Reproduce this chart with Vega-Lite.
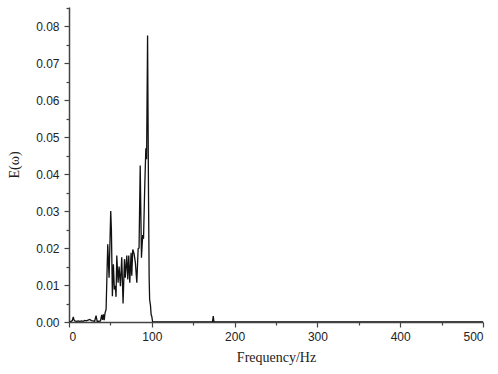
{
  "$schema": "https://vega.github.io/schema/vega-lite/v6.json",
  "width": 414,
  "height": 315,
  "autosize": {"type": "none"},
  "padding": {"left": 69, "top": 7, "right": 15, "bottom": 52},
  "background": "white",
  "config": {
    "view": {"stroke": null},
    "axis": {
      "grid": false,
      "domainColor": "#444444",
      "domainWidth": 1.5,
      "tickColor": "#444444",
      "tickWidth": 1.2,
      "labelColor": "#222222",
      "labelFont": "Liberation Sans",
      "labelFontSize": 12,
      "titleFont": "Liberation Serif",
      "titleFontSize": 14,
      "titleFontWeight": "normal",
      "titleColor": "#222222"
    }
  },
  "data": {
    "values": [
      {"f": 0, "e": 0.0},
      {"f": 2, "e": 0.0001},
      {"f": 4, "e": 0.0004},
      {"f": 5.2, "e": 0.0014},
      {"f": 6, "e": 0.0006},
      {"f": 7, "e": 0.0003},
      {"f": 9, "e": 0.0002},
      {"f": 11, "e": 0.0003},
      {"f": 13, "e": 0.0002},
      {"f": 15, "e": 0.0003},
      {"f": 17, "e": 0.0002},
      {"f": 19, "e": 0.0004},
      {"f": 21, "e": 0.0003},
      {"f": 23, "e": 0.0005},
      {"f": 25, "e": 0.0007},
      {"f": 27, "e": 0.0004},
      {"f": 29, "e": 0.0003},
      {"f": 31, "e": 0.0002},
      {"f": 32.7, "e": 0.0017},
      {"f": 34, "e": 0.0002},
      {"f": 36, "e": 0.0002},
      {"f": 38, "e": 0.0003},
      {"f": 39.5, "e": 0.0019},
      {"f": 40.5, "e": 0.0006},
      {"f": 41.5, "e": 0.0021},
      {"f": 42.5, "e": 0.0005},
      {"f": 43.5, "e": 0.0024},
      {"f": 44.8, "e": 0.0034},
      {"f": 46.8, "e": 0.021},
      {"f": 48.4, "e": 0.012},
      {"f": 50.4, "e": 0.030},
      {"f": 51.2, "e": 0.025},
      {"f": 52.4, "e": 0.007},
      {"f": 53.6, "e": 0.0156},
      {"f": 54.8, "e": 0.0088},
      {"f": 56.0, "e": 0.0098},
      {"f": 56.8, "e": 0.0068},
      {"f": 57.7, "e": 0.018},
      {"f": 59.3, "e": 0.0106},
      {"f": 60.5, "e": 0.015},
      {"f": 62.1, "e": 0.0097},
      {"f": 63.7, "e": 0.0175},
      {"f": 65.3, "e": 0.005},
      {"f": 67.0, "e": 0.017},
      {"f": 68.0, "e": 0.012},
      {"f": 69.8, "e": 0.018},
      {"f": 71.0, "e": 0.0115},
      {"f": 72.2, "e": 0.018},
      {"f": 73.4, "e": 0.0106},
      {"f": 75.0, "e": 0.0187},
      {"f": 75.8, "e": 0.0125},
      {"f": 77.0, "e": 0.0196},
      {"f": 78.6, "e": 0.0185},
      {"f": 80.2, "e": 0.016},
      {"f": 81.9, "e": 0.0106},
      {"f": 83.5, "e": 0.0198},
      {"f": 84.6, "e": 0.020},
      {"f": 86.0, "e": 0.0423},
      {"f": 87.5, "e": 0.0174},
      {"f": 89.0, "e": 0.0235},
      {"f": 90.0, "e": 0.0225},
      {"f": 91.3, "e": 0.035},
      {"f": 92.8, "e": 0.047},
      {"f": 93.7, "e": 0.044},
      {"f": 94.9, "e": 0.0775},
      {"f": 96.0, "e": 0.035},
      {"f": 96.8, "e": 0.012},
      {"f": 97.4, "e": 0.006},
      {"f": 98.4, "e": 0.0045},
      {"f": 99.2, "e": 0.002},
      {"f": 100.0, "e": 0.0015},
      {"f": 101.0, "e": 0.0},
      {"f": 173.3, "e": 0.0},
      {"f": 174.2, "e": 0.0016},
      {"f": 175.1, "e": 0.0},
      {"f": 500, "e": 0.0}
    ]
  },
  "layer": [
    {
      "mark": {"type": "line", "color": "#111111", "strokeWidth": 1.3, "clip": true},
      "encoding": {
        "x": {
          "field": "f", "type": "quantitative",
          "scale": {"domain": [0, 500], "nice": false, "zero": false},
          "axis": {
            "orient": "bottom",
            "values": [0, 100, 200, 300, 400, 500],
            "tickSize": 5,
            "labelPadding": 4,
            "title": "Frequency/Hz",
            "titlePadding": 8
          }
        },
        "y": {
          "field": "e", "type": "quantitative",
          "scale": {"domain": [0, 0.0852], "nice": false},
          "axis": {
            "orient": "left",
            "values": [0, 0.01, 0.02, 0.03, 0.04, 0.05, 0.06, 0.07, 0.08],
            "format": ".2f",
            "tickSize": 5,
            "labelPadding": 5,
            "title": "E(ω)",
            "titlePadding": 14
          }
        }
      }
    },
    {
      "mark": {"type": "line", "strokeOpacity": 0},
      "encoding": {
        "x": {
          "field": "f", "type": "quantitative",
          "axis": {
            "orient": "bottom",
            "values": [50, 150, 250, 350, 450],
            "tickSize": 3,
            "labels": false,
            "domain": false,
            "title": null
          }
        },
        "y": {
          "field": "e", "type": "quantitative",
          "axis": {
            "orient": "left",
            "values": [0.005, 0.015, 0.025, 0.035, 0.045, 0.055, 0.065, 0.075, 0.085],
            "tickSize": 3,
            "labels": false,
            "domain": false,
            "title": null
          }
        }
      }
    }
  ],
  "resolve": {"axis": {"x": "independent", "y": "independent"}}
}
